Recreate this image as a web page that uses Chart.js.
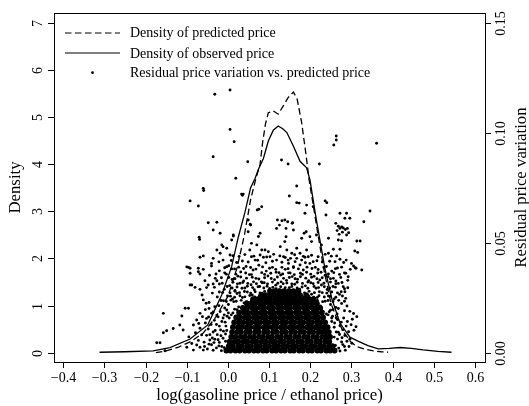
<!DOCTYPE html>
<html>
<head>
<meta charset="utf-8">
<script src="https://cdn.jsdelivr.net/npm/chart.js@4.4.1/dist/chart.umd.min.js"></script>
<style>
  html, body { margin: 0; padding: 0; background: #fff; }
</style>
</head>
<body>
<canvas id="chart" width="529" height="406"></canvas>
<script>
// tick values
const xTicks = [-0.4, -0.3, -0.2, -0.1, 0.0, 0.1, 0.2, 0.3, 0.4, 0.5, 0.6];
const densityTicks = [0, 1, 2, 3, 4, 5, 6, 7];
const residualTicks = [0, 0.05, 0.10, 0.15];
const residualTickLabels = ['0.00', '0.05', '0.10', '0.15'];

// density of observed price (solid)
const observedX = [-0.312,-0.25,-0.182,-0.141,-0.092,-0.049,-0.015,0.009,0.025,0.041,0.055,0.066,0.074,0.086,0.098,0.110,0.122,0.133,0.143,0.159,0.175,0.191,0.199,0.215,0.236,0.252,0.272,0.296,0.317,0.340,0.365,0.392,0.418,0.445,0.474,0.510,0.543];
const observedDensity = [0.01,0.02,0.04,0.11,0.29,0.59,1.23,1.83,2.45,2.97,3.50,3.70,3.89,4.12,4.49,4.72,4.81,4.75,4.67,4.38,4.06,3.92,3.67,2.80,1.76,1.15,0.63,0.33,0.24,0.15,0.08,0.09,0.11,0.09,0.06,0.03,0.01];

// density of predicted price (dashed)
const predictedX = [-0.175,-0.150,-0.120,-0.090,-0.060,-0.030,0.000,0.022,0.040,0.055,0.068,0.078,0.084,0.091,0.098,0.110,0.122,0.134,0.146,0.159,0.168,0.179,0.190,0.197,0.215,0.233,0.250,0.264,0.280,0.298,0.313,0.335,0.353,0.372,0.389];
const predictedDensity = [0.00,0.04,0.12,0.24,0.42,0.75,1.20,1.80,2.50,3.25,3.70,4.00,4.45,4.85,5.09,5.13,5.06,5.23,5.41,5.53,5.38,4.88,4.17,3.67,2.70,1.76,1.05,0.73,0.45,0.23,0.13,0.07,0.04,0.02,0.01];

// residual price variation vs. predicted price: scattered points [x, residual]
const residualOutliers = [
  [-.032,.1175],[.005,.1194],[.005,.1015],[.015,.0959],[-.036,.0891],[.048,.0868],[.019,.0793],[.130,.0876],[.146,.0858],[.222,.0858],
  [.263,.0985],[.263,.0967],[.257,.0944],[.361,.0952],[.167,.0758],[.149,.0712],[.167,.0682],[.173,.0680],[.082,.0664],[.207,.0664],
  [.236,.0690],[.240,.0682],[.187,.0634],[.238,.0626],[.272,.0634],[.288,.0634],[.284,.0611],[.296,.0611],[.345,.0644],[.330,.0595],
  [.191,.0671],[-.092,.0690],[-.072,.0667],[-.060,.0747],[-.059,.0737],[-.048,.0591],[-.036,.0558],[-.070,.0525],[-.069,.0515],[-.027,.0593],
  [.033,.0721],[.037,.0721],[.035,.0716],[.071,.0649],[.075,.0652],[.049,.0603],[.054,.0584],[.074,.0528],[.078,.0543],[.013,.0530],
  [-.019,.0543],[-.015,.0490],[-.003,.0475],[.055,.0580],[.049,.0550],[.120,.0603],[.138,.0603],[.118,.0565],[.141,.0565],[.156,.0588],
  [.131,.0600],[.125,.0580],[.145,.0595],[.262,.0588],[.268,.0575],[.272,.0565],[.276,.0572],[.280,.0567],[.285,.0560],[.290,.0565],
  [.265,.0555],[.278,.0548],[.288,.0535],[.270,.0538],[.293,.0545],[.157,.0591],[.159,.0558],[.141,.0527],[.138,.0505],[.190,.0550],
  [.185,.0543],[.179,.0520],[.199,.0527],[.203,.0505],[.215,.0535],[.244,.0520],[.268,.0512],[.276,.0509],[.313,.0508],[.321,.0508],
  [.009,.0512],[.013,.0535],[.057,.0497]
];

const residualCloud = [
  [-.012,.0482],[.005,.0444],[-.019,.0452],[-.027,.0467],[-.012,.0421],[-.003,.0391],[-.036,.0429],[-.068,.0434],[-.092,.0384],[.070,.0490],
  [.053,.0467],[.082,.0467],[.090,.0467],[.098,.0459],[.102,.0436],[.086,.0434],[.057,.0436],[.066,.0421],[.127,.0482],[.143,.0467],
  [.155,.0452],[.167,.0429],[.179,.0421],[.191,.0467],[.195,.0436],[.135,.0436],[.118,.0421],[.147,.0406],[.159,.0391],[.175,.0399],
  [.199,.0406],[.207,.0414],[.167,.0475],[.175,.0452],[.152,.0429],[.187,.0434],[.227,.0490],[.244,.0452],[.260,.0414],[.272,.0425],
  [.300,.0406],[.311,.0384],[.308,.0462],[.315,.0456],[.287,.0421],[.264,.0440],[.256,.0470],[.272,.0470],
  [-.060,.0440],[-.100,.0390],[-.072,.0384],[-.040,.0406],[-.096,.0388],[-.092,.0361],[-.072,.0368],[-.068,.0358],[-.060,.0379],[-.040,.0394],
  [-.088,.0308],[-.080,.0297],[-.068,.0288],[-.056,.0327],[-.048,.0308],[-.036,.0312],[-.027,.0327],[-.060,.0240],[-.053,.0225],[-.068,.0179],
  [-.076,.0149],[-.084,.0126],[-.068,.0111],[-.052,.0156],[-.040,.0179],[-.032,.0209],[-.044,.0058],[-.100,.0025],[-.084,.0012],[-.068,.0025],
  [-.060,.0012],[-.076,.0035],[-.092,.0308],[-.157,.0179],[-.173,.0045],[-.165,.0045],[-.153,.0009],[-.157,.0091],[-.149,.0100],[-.133,.0110],
  [-.117,.0126],[-.109,.0103],[-.112,.0167],[-.104,.0202],[-.096,.0202],[.313,.0164],[.311,.0118],[.325,.0376],[.305,.0394],[.309,.0386],
  [.292,.0345],[.280,.0300],[.286,.0247],[.275,.0277],
  [-.021,.0372],[.002,.0395],[.016,.0381],[.031,.0367],[.044,.0392],[.061,.0376],[.075,.0398],[.093,.0371],[.108,.0388],[.124,.0364],
  [.139,.0379],[.151,.0362],[.183,.0376],[.212,.0388],[.226,.0366],[.239,.0392],[.252,.0371],[.266,.0385],[.283,.0362],[.297,.0379],
  [-.045,.0352],[-.016,.0341],[-.004,.0357],[.010,.0333],[.024,.0348],[.038,.0326],[.052,.0355],[.068,.0338],[.081,.0322],[.097,.0349],
  [.113,.0332],[.128,.0353],[.142,.0329],[.156,.0346],[.169,.0334],[.181,.0356],[.196,.0327],[.209,.0347],[.223,.0331],[.236,.0352],
  [.249,.0336],[.262,.0326],[.291,.0329],
  [-.052,.0296],[-.021,.0312],[-.009,.0288],[.004,.0305],[.017,.0283],[.029,.0316],[.041,.0294],[.056,.0309],[.064,.0286],[.077,.0301],
  [.088,.0318],[.101,.0292],[.116,.0307],[.125,.0285],[.134,.0314],[.149,.0296],[.162,.0311],[.174,.0289],[.188,.0304],[.201,.0318],
  [.214,.0293],[.227,.0308],[.241,.0287],[.255,.0301],[.268,.0315],[.283,.0291],
  [-.063,.0262],[-.038,.0271],[-.026,.0253],[-.013,.0274],[-.001,.0258],[.011,.0244],[.022,.0269],[.035,.0251],[.047,.0276],[.059,.0262],
  [.071,.0246],[.083,.0271],[.094,.0255],[.106,.0277],[.119,.0261],[.131,.0247],[.143,.0268],[.155,.0253],[.167,.0275],[.178,.0259],
  [.191,.0244],[.203,.0266],[.217,.0251],[.229,.0273],[.244,.0258],[.258,.0244],[.271,.0265],
  [-.046,.0228],[-.022,.0214],[-.011,.0236],[.001,.0219],[.014,.0232],[.026,.0208],[.039,.0226],[.051,.0212],[.063,.0234],[.076,.0219],
  [.089,.0229],[.101,.0211],[.113,.0237],[.124,.0222],[.137,.0208],[.149,.0231],[.161,.0216],[.173,.0236],[.186,.0221],[.198,.0209],
  [.211,.0227],[.224,.0213],[.236,.0234],[.249,.0219],[.262,.0206],[.276,.0224],[.289,.0212],
  [-.036,.0185],[-.024,.0163],[-.015,.0142],[-.028,.0128],[-.009,.0172],[.003,.0158],[-.003,.0194],[.012,.0181],[.022,.0195],[.033,.0186],
  [.231,.0188],[.243,.0172],[.252,.0158],[.259,.0135],[.266,.0151],[.272,.0122],[.279,.0104],[.268,.0093],[.284,.0078],[.290,.0142],
  [.296,.0061],[.276,.0049],[.283,.0028],[.265,.0176],[.249,.0193],[.296,.0188],[.302,.0152],
  [-.048,.0108],[-.036,.0094],[-.026,.0082],[-.018,.0103],[-.032,.0061],[-.021,.0047],[-.012,.0066],[-.040,.0036],[-.028,.0022],[-.015,.0028],
  [-.006,.0085],[-.052,.0079],[-.058,.0048],[-.005,.0121],[-.016,.0009],[-.036,.0011],[-.050,.0017],[.272,.0008],[.285,.0011],[.261,.0033]
];

// the busier band just above the black core
const residualCloudDense = [
  [.012,.0441],[.027,.0437],[.041,.0446],[.063,.0439],[.078,.0444],[.094,.0435],[.111,.0447],[.126,.0440],[.139,.0433],[.162,.0445],[.183,.0438],[.203,.0443],[.219,.0436],[.236,.0447],[.251,.0439],
  [-.022,.0413],[.008,.0419],[.021,.0410],[.035,.0417],[.049,.0412],[.072,.0420],[.092,.0409],[.108,.0416],[.131,.0411],[.146,.0421],[.163,.0414],[.188,.0409],[.216,.0418],[.229,.0412],[.247,.0416],[.281,.0410],
  [-.008,.0386],[.009,.0381],[.026,.0389],[.038,.0383],[.055,.0387],[.068,.0380],[.084,.0390],[.101,.0384],[.116,.0379],[.131,.0388],[.146,.0382],[.159,.0387],[.171,.0381],[.192,.0389],[.204,.0383],[.219,.0378],[.233,.0387],[.261,.0382],[.276,.0389],
  [-.029,.0358],[-.008,.0363],[.019,.0357],[.043,.0362],[.057,.0355],[.082,.0364],[.089,.0356],[.104,.0361],[.117,.0366],[.133,.0358],[.147,.0363],[.161,.0355],[.176,.0361],[.191,.0366],[.201,.0357],[.218,.0362],[.244,.0358],[.257,.0364],[.271,.0356],[.286,.0361],
  [-.031,.0338],[.002,.0342],[.017,.0336],[.031,.0344],[.045,.0339],[.059,.0343],[.075,.0335],[.089,.0341],[.105,.0337],[.120,.0344],[.135,.0338],[.149,.0342],[.163,.0336],[.176,.0345],[.189,.0339],[.203,.0343],[.216,.0336],[.229,.0341],[.243,.0345],[.256,.0338],[.274,.0342],
  [-.014,.0316],[.012,.0320],[.023,.0313],[.036,.0319],[.048,.0315],[.062,.0322],[.069,.0314],[.083,.0318],[.096,.0313],[.108,.0321],[.121,.0316],[.129,.0322],[.143,.0317],[.155,.0313],[.168,.0320],[.181,.0315],[.194,.0321],[.207,.0314],[.219,.0319],[.233,.0316],[.249,.0321],[.262,.0314],[.277,.0319],
  [-.033,.0297],[-.002,.0301],[.010,.0294],[.022,.0299],[.034,.0293],[.047,.0302],[.060,.0296],[.073,.0300],[.087,.0294],[.095,.0302],[.109,.0297],[.117,.0291],[.128,.0300],[.139,.0295],[.155,.0301],[.168,.0294],[.180,.0299],[.194,.0293],[.209,.0301],[.220,.0296],[.234,.0300],[.247,.0294],[.261,.0298],[.291,.0295],
  [-.021,.0276],[.005,.0272],[.017,.0279],[.028,.0273],[.040,.0278],[.055,.0271],[.066,.0277],[.078,.0272],[.089,.0279],[.100,.0274],[.114,.0270],[.124,.0278],[.136,.0273],[.149,.0279],[.161,.0271],[.173,.0276],[.186,.0272],[.197,.0279],[.210,.0273],[.222,.0277],[.240,.0271],[.252,.0276],[.266,.0272],[.284,.0277],
  [.006,.0257],[.016,.0252],[.029,.0259],[.041,.0254],[.053,.0260],[.065,.0253],[.076,.0258],[.088,.0251],[.100,.0259],[.112,.0254],[.125,.0260],[.137,.0252],[.149,.0257],[.162,.0253],[.173,.0259],[.185,.0254],[.196,.0258],[.208,.0252],[.221,.0259],[.234,.0253],[.249,.0257],[.262,.0252],[.278,.0258],
  [-.017,.0237],[-.004,.0233],[.007,.0239],[.020,.0234],[.032,.0238],[.045,.0232],[.057,.0237],[.069,.0233],[.081,.0240],[.094,.0235],[.106,.0231],[.119,.0238],[.131,.0234],[.143,.0239],[.156,.0232],[.168,.0237],[.180,.0233],[.192,.0239],[.204,.0234],[.217,.0238],[.230,.0232],[.243,.0237],[.255,.0233],[.269,.0238],[.283,.0234],
  [-.055,.0135],[-.047,.0162],[-.041,.0128],[-.033,.0147],[-.027,.0171],[-.021,.0121],[-.012,.0158],[-.007,.0139],[-.002,.0166],[-.044,.0082],
  [-.038,.0067],[-.031,.0101],[-.024,.0059],[-.017,.0077],[-.011,.0098],[-.006,.0052],[-.003,.0101],[-.046,.0039],[-.034,.0046],[-.022,.0031],
  [-.009,.0023],[-.057,.0028],[-.064,.0081],[-.072,.0056],[-.079,.0091],[-.088,.0042],[-.095,.0072],[-.062,.0164],[-.071,.0133],[-.055,.0196],
  [-.046,.0201],[-.019,.0187],[-.008,.0203],[.001,.0181],[.008,.0172],[.016,.0198],[.028,.0174],[.039,.0195],
  [.252,.0142],[.258,.0116],[.263,.0094],[.258,.0071],[.266,.0062],[.271,.0083],[.263,.0158],[.275,.0139],[.281,.0158],[.287,.0121],
  [.293,.0095],[.277,.0068],[.289,.0052],[.294,.0028],[.269,.0021],[.279,.0037],[.254,.0166],[.246,.0186],[.239,.0176],[.227,.0198],
  [.301,.0043],[.306,.0102],[.299,.0127],[.255,.0196],[.283,.0191],[.268,.0201],[.305,.0178]
];

// the solid black core of the cloud, read as rows of residual level and x positions
const coreRowY = [.0010, .0030, .0050, .0072, .0094, .0116, .0138, .0160, .0182, .0204, .0224, .0244, .0262, .0280];
const coreRowX = [
  [-.004,.006,.018,.028,.041,.051,.063,.073,.085,.094,.107,.117,.129,.138,.151,.160,.173,.182,.195,.204,.217,.226,.239,.248,.259],
  [.002,.012,.025,.034,.047,.056,.069,.078,.091,.100,.113,.122,.135,.144,.157,.166,.179,.188,.201,.210,.223,.232,.245,.254],
  [.004,.016,.025,.038,.047,.060,.069,.082,.091,.104,.113,.126,.135,.148,.157,.170,.179,.192,.201,.214,.223,.236,.246],
  [.008,.018,.031,.040,.053,.062,.075,.084,.097,.106,.119,.128,.141,.150,.163,.172,.185,.194,.207,.216,.229,.238,.248],
  [.010,.022,.031,.044,.053,.066,.075,.088,.097,.110,.119,.132,.141,.154,.163,.176,.185,.198,.207,.220,.229,.238,.245],
  [.012,.024,.033,.045,.054,.066,.075,.087,.096,.108,.117,.129,.138,.150,.159,.171,.180,.192,.201,.213,.222,.233,.242],
  [.015,.026,.036,.048,.057,.069,.078,.090,.099,.111,.120,.132,.141,.153,.162,.174,.183,.195,.204,.216,.225,.236],
  [.020,.030,.042,.051,.063,.072,.084,.093,.105,.114,.126,.135,.147,.156,.168,.177,.189,.198,.210,.219,.231],
  [.027,.039,.048,.060,.069,.081,.090,.102,.111,.123,.132,.144,.153,.165,.174,.186,.195,.207,.216,.228],
  [.036,.046,.058,.067,.079,.088,.100,.109,.121,.130,.142,.151,.163,.172,.184,.193,.205,.214,.224],
  [.046,.057,.066,.078,.087,.099,.108,.120,.129,.141,.150,.162,.171,.183,.192,.204,.216],
  [.061,.072,.081,.093,.102,.114,.123,.135,.144,.156,.165,.177,.186,.198,.208],
  [.081,.091,.103,.112,.124,.133,.145,.154,.166,.175,.190],
  [.102,.113,.125,.136,.148,.159,.171]
];

const curveObserved = observedX.map((x, i) => ({ x: x, y: observedDensity[i] }));
const curvePredicted = predictedX.map((x, i) => ({ x: x, y: predictedDensity[i] }));
const scatterPts = residualOutliers.concat(residualCloud, residualCloudDense).map(p => ({ x: p[0], y: p[1] }));
const corePts = [];
coreRowY.forEach((y, i) => coreRowX[i].forEach(x => corePts.push({ x: x, y: y })));

const serif = '"Liberation Serif", "Times New Roman", serif';

function fmtX(v) {
  const s = Math.abs(v).toFixed(1);
  return v < -1e-9 ? '\u2212' + s : s;
}

// R style box, axes, titles and legend
const rStyle = {
  id: 'rStyle',
  afterDraw(chart) {
    const { ctx, chartArea: a, scales } = chart;
    const left = Math.round(a.left), right = Math.round(a.right);
    const top = Math.round(a.top), bottom = Math.round(a.bottom);
    ctx.save();
    ctx.strokeStyle = '#000';
    ctx.fillStyle = '#000';
    ctx.lineWidth = 1;
    ctx.setLineDash([]);
    ctx.strokeRect(left + 0.5, top + 0.5, right - left, bottom - top);

    const tick = (x1, y1, x2, y2) => {
      ctx.beginPath(); ctx.moveTo(x1, y1); ctx.lineTo(x2, y2); ctx.stroke();
    };
    const vText = (txt, x, y) => {
      ctx.save(); ctx.translate(x, y); ctx.rotate(-Math.PI / 2);
      ctx.textAlign = 'center'; ctx.textBaseline = 'alphabetic';
      ctx.fillText(txt, 0, 0); ctx.restore();
    };

    ctx.font = '14px ' + serif;
    ctx.textAlign = 'center';
    ctx.textBaseline = 'alphabetic';
    xTicks.forEach(v => {
      const px = Math.round(scales.x.getPixelForValue(v)) + 0.5;
      tick(px, bottom, px, bottom + 6);
      ctx.fillText(fmtX(v), px, bottom + 20);
    });
    densityTicks.forEach(v => {
      const py = Math.round(scales.y.getPixelForValue(v)) + 0.5;
      tick(left - 6, py, left, py);
      vText(String(v), left - 12, py);
    });
    residualTicks.forEach((v, i) => {
      const py = Math.round(scales.y2.getPixelForValue(v)) + 0.5;
      tick(right, py, right + 6, py);
      vText(residualTickLabels[i], right + 20, py);
    });

    ctx.font = '16.8px ' + serif;
    const midY = (top + bottom) / 2;
    ctx.fillText('log(gasoline price / ethanol price)', (left + right) / 2, bottom + 38);
    vText('Density', 19.5, midY);
    vText('Residual price variation', right + 41, midY);

    // legend
    ctx.font = '14px ' + serif;
    ctx.textAlign = 'left';
    ctx.lineWidth = 1.2;
    const lx0 = left + 11, lx1 = left + 66, tx = left + 76;
    ctx.setLineDash([6.5, 3.5]);
    tick(lx0, top + 20, lx1, top + 20);
    ctx.setLineDash([]);
    tick(lx0, top + 40, lx1, top + 40);
    ctx.beginPath();
    ctx.arc((lx0 + lx1) / 2, top + 59.7, 1.4, 0, Math.PI * 2);
    ctx.fill();
    ctx.fillText('Density of predicted price', tx, top + 24);
    ctx.fillText('Density of observed price', tx, top + 44.5);
    ctx.fillText('Residual price variation vs. predicted price', tx, top + 64.3);
    ctx.restore();
  }
};

new Chart(document.getElementById('chart'), {
  type: 'scatter',
  data: {
    datasets: [
      {
        label: 'Density of predicted price',
        data: curvePredicted,
        showLine: true,
        borderColor: '#000',
        borderWidth: 1.3,
        borderDash: [6.5, 3.5],
        pointRadius: 0,
        tension: 0,
        yAxisID: 'y'
      },
      {
        label: 'Density of observed price',
        data: curveObserved,
        showLine: true,
        borderColor: '#000',
        borderWidth: 1.3,
        pointRadius: 0,
        tension: 0,
        yAxisID: 'y'
      },
      {
        label: 'Residual price variation vs. predicted price',
        data: scatterPts,
        pointRadius: 1.45,
        pointBorderWidth: 0,
        pointBackgroundColor: '#000',
        yAxisID: 'y2'
      },
      {
        label: 'Residual price variation (dense part)',
        data: corePts,
        pointRadius: 2.9,
        pointBorderWidth: 0,
        pointBackgroundColor: '#000',
        yAxisID: 'y2'
      }
    ]
  },
  options: {
    responsive: false,
    animation: false,
    devicePixelRatio: 1,
    layout: { padding: { left: 54, right: 44, top: 13, bottom: 44 } },
    scales: {
      x: { type: 'linear', min: -0.4226, max: 0.6243, display: false },
      y: { type: 'linear', min: -0.197, max: 7.206, display: false },
      y2: { type: 'linear', position: 'right', min: -0.00422, max: 0.15441, display: false }
    },
    plugins: {
      legend: { display: false },
      tooltip: { enabled: false }
    }
  },
  plugins: [rStyle]
});
</script>
</body>
</html>
